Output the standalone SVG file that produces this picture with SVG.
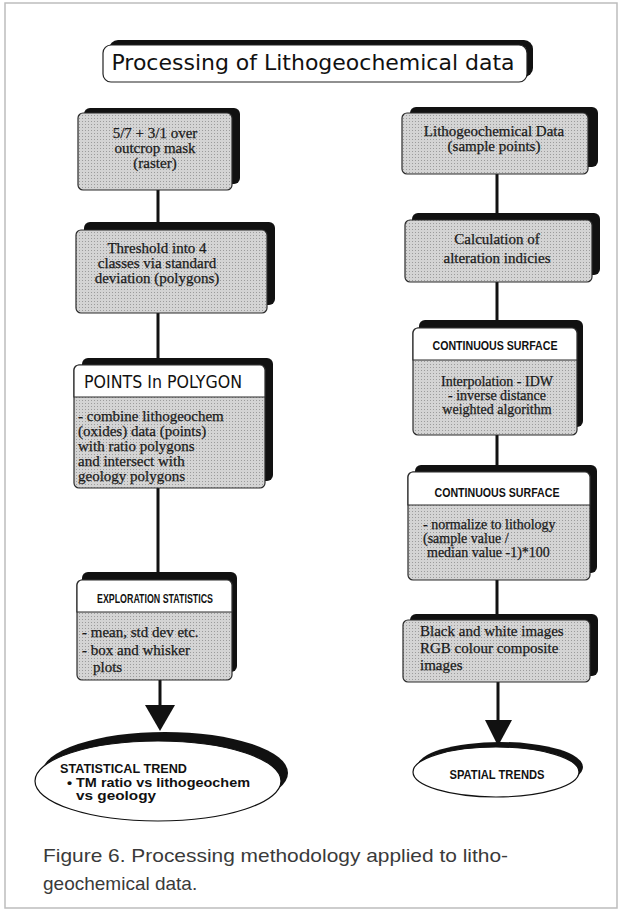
<svg xmlns="http://www.w3.org/2000/svg" width="622" height="913" viewBox="0 0 622 913">
<defs>
  <pattern id="stip" width="3" height="3" patternUnits="userSpaceOnUse">
    <rect width="3" height="3" fill="#d4d4d4"/>
    <rect x="1" y="1" width="1" height="1" fill="#9c9c9c"/>
  </pattern>
  <style>
    .shadow{fill:#111;}
    .box{fill:url(#stip);stroke:#2a2a2a;stroke-width:1.2;}
    .hdr{fill:#fff;stroke:#2a2a2a;stroke-width:1.2;}
    .ser{font-family:"Liberation Serif","Times New Roman",serif;font-size:15px;fill:#1a1a1a;stroke:#1a1a1a;stroke-width:0.25;}
    .tight{font-size:14px;}
    .mid{text-anchor:middle;}
    .cond{font-family:"Liberation Sans",Arial,sans-serif;font-weight:bold;font-size:12.5px;fill:#111;}
    .conn{stroke:#111;stroke-width:3;fill:none;}
    .arrowhead{fill:#111;}
    .cap{font-family:"Liberation Sans",Arial,sans-serif;font-size:19px;fill:#3a3a3a;}
  </style>
</defs>
<rect x="0" y="0" width="622" height="913" fill="#fff"/>
<rect x="5" y="3" width="612" height="905" fill="none" stroke="#bdbdbd" stroke-width="1.5"/>

<g id="title">
  <rect class="shadow" x="109" y="40" width="424" height="37" rx="9"/>
  <rect x="103" y="45" width="424" height="37" rx="8" fill="#fff" stroke="#222" stroke-width="1.2"/>
  <text x="313" y="70" text-anchor="middle" font-family="'DejaVu Sans',sans-serif" font-size="21" fill="#111" textLength="403" lengthAdjust="spacingAndGlyphs">Processing of Lithogeochemical data</text>
</g>

<g id="connectors">
  <line class="conn" x1="158" y1="190" x2="158" y2="224"/>
  <line class="conn" x1="158" y1="313" x2="158" y2="360"/>
  <line class="conn" x1="158" y1="488" x2="158" y2="574"/>
  <line class="conn" x1="160" y1="680" x2="160" y2="707"/>
  <polygon class="arrowhead" points="145,705 175,705 160,731"/>
  <line class="conn" x1="497" y1="174" x2="497" y2="215"/>
  <line class="conn" x1="497" y1="282" x2="497" y2="322"/>
  <line class="conn" x1="497" y1="435" x2="497" y2="467"/>
  <line class="conn" x1="497" y1="580" x2="497" y2="616"/>
  <line class="conn" x1="498" y1="682" x2="498" y2="722"/>
  <polygon class="arrowhead" points="485,720 512,720 498,746"/>
</g>

<g id="raster">
  <rect class="shadow" x="84" y="108" width="156" height="76" rx="6"/>
  <rect class="box" x="78" y="113" width="154" height="77" rx="5"/>
  <text class="ser mid" x="155" y="138">5/7 + 3/1 over</text>
  <text class="ser mid" x="155" y="153">outcrop mask</text>
  <text class="ser mid" x="155" y="168">(raster)</text>
</g>

<g id="threshold">
  <rect class="shadow" x="84" y="222" width="191" height="83" rx="6"/>
  <rect class="box" x="76" y="230" width="191" height="83" rx="5"/>
  <text class="ser mid" x="157" y="253">Threshold into 4</text>
  <text class="ser mid" x="157" y="268">classes via standard</text>
  <text class="ser mid" x="157" y="283">deviation (polygons)</text>
</g>

<g id="points-in-polygon">
  <rect class="shadow" x="82" y="358" width="191" height="123" rx="6"/>
  <rect class="box" x="74" y="365" width="191" height="123" rx="5"/>
  <path class="hdr" d="M74,397 V370 a5,5 0 0 1 5,-5 H260 a5,5 0 0 1 5,5 V397 Z"/>
  <text x="163" y="388" text-anchor="middle" font-family="'DejaVu Sans',sans-serif" font-size="17" fill="#111" textLength="158" lengthAdjust="spacingAndGlyphs">POINTS In POLYGON</text>
  <text class="ser" x="78" y="421">- combine lithogeochem</text>
  <text class="ser" x="78" y="436">(oxides) data (points)</text>
  <text class="ser" x="78" y="451">with  ratio polygons</text>
  <text class="ser" x="78" y="466">and intersect with</text>
  <text class="ser" x="78" y="481">geology polygons</text>
</g>

<g id="exploration-statistics">
  <rect class="shadow" x="82" y="572" width="155" height="100" rx="6"/>
  <rect class="box" x="77" y="580" width="155" height="100" rx="5"/>
  <path class="hdr" d="M77,612 V585 a5,5 0 0 1 5,-5 H227 a5,5 0 0 1 5,5 V612 Z"/>
  <text class="cond mid" x="155" y="603" textLength="116" lengthAdjust="spacingAndGlyphs">EXPLORATION STATISTICS</text>
  <text class="ser" x="82" y="637">- mean, std dev etc.</text>
  <text class="ser" x="82" y="655">-  box and whisker</text>
  <text class="ser" x="93" y="672">plots</text>
</g>

<g id="statistical-trend">
  <ellipse class="shadow" cx="165" cy="773" rx="123" ry="41"/>
  <ellipse cx="158" cy="781" rx="123" ry="40" fill="#fff" stroke="#111" stroke-width="1.2"/>
  <text class="cond" x="60" y="773" font-size="13" textLength="127" lengthAdjust="spacingAndGlyphs">STATISTICAL  TREND</text>
  <text class="cond" x="67" y="787" font-size="13" textLength="183" lengthAdjust="spacingAndGlyphs">• TM ratio vs lithogeochem</text>
  <text class="cond" x="76" y="800" font-size="13" textLength="80" lengthAdjust="spacingAndGlyphs">vs geology</text>
</g>

<g id="litho-data">
  <rect class="shadow" x="410" y="107" width="188" height="60" rx="6"/>
  <rect class="box" x="402" y="113" width="186" height="61" rx="5"/>
  <text class="ser mid" x="494" y="136">Lithogeochemical Data</text>
  <text class="ser mid" x="494" y="151">(sample points)</text>
</g>

<g id="alteration">
  <rect class="shadow" x="412" y="213" width="188" height="62" rx="6"/>
  <rect class="box" x="405" y="220" width="187" height="62" rx="5"/>
  <text class="ser mid" x="497" y="244">Calculation of</text>
  <text class="ser mid" x="497" y="263">alteration indicies</text>
</g>

<g id="continuous-surface-1">
  <rect class="shadow" x="419" y="320" width="164" height="107" rx="6"/>
  <rect class="box" x="413" y="328" width="164" height="107" rx="5"/>
  <path class="hdr" d="M413,360 V333 a5,5 0 0 1 5,-5 H572 a5,5 0 0 1 5,5 V360 Z"/>
  <text class="cond mid" x="495" y="350" textLength="125" lengthAdjust="spacingAndGlyphs">CONTINUOUS SURFACE</text>
  <text class="ser tight mid" x="497" y="386">Interpolation - IDW</text>
  <text class="ser tight mid" x="497" y="400">- inverse distance</text>
  <text class="ser tight mid" x="497" y="414">weighted algorithm</text>
</g>

<g id="continuous-surface-2">
  <rect class="shadow" x="415" y="465" width="182" height="108" rx="6"/>
  <rect class="box" x="408" y="472" width="182" height="108" rx="5"/>
  <path class="hdr" d="M408,505 V477 a5,5 0 0 1 5,-5 H585 a5,5 0 0 1 5,5 V505 Z"/>
  <text class="cond mid" x="497" y="497" textLength="125" lengthAdjust="spacingAndGlyphs">CONTINUOUS SURFACE</text>
  <text class="ser tight" x="423" y="529">- normalize to lithology</text>
  <text class="ser tight" x="423" y="543">(sample value /</text>
  <text class="ser tight" x="427" y="557">median value -1)*100</text>
</g>

<g id="images">
  <rect class="shadow" x="410" y="614" width="188" height="62" rx="6"/>
  <rect class="box" x="403" y="620" width="187" height="62" rx="5"/>
  <text class="ser" x="420" y="636">Black and white images</text>
  <text class="ser" x="420" y="653">RGB colour composite</text>
  <text class="ser" x="420" y="670">images</text>
</g>

<g id="spatial-trends">
  <ellipse class="shadow" cx="500" cy="767" rx="83" ry="25"/>
  <ellipse cx="496" cy="772" rx="83" ry="25" fill="#fff" stroke="#111" stroke-width="1.2"/>
  <text class="cond mid" x="497" y="779" font-size="12" textLength="95" lengthAdjust="spacingAndGlyphs">SPATIAL TRENDS</text>
</g>

<g id="caption">
  <text class="cap" x="43" y="862" textLength="465" lengthAdjust="spacingAndGlyphs">Figure 6. Processing methodology applied to litho-</text>
  <text class="cap" x="43" y="890">geochemical data.</text>
</g>
</svg>
